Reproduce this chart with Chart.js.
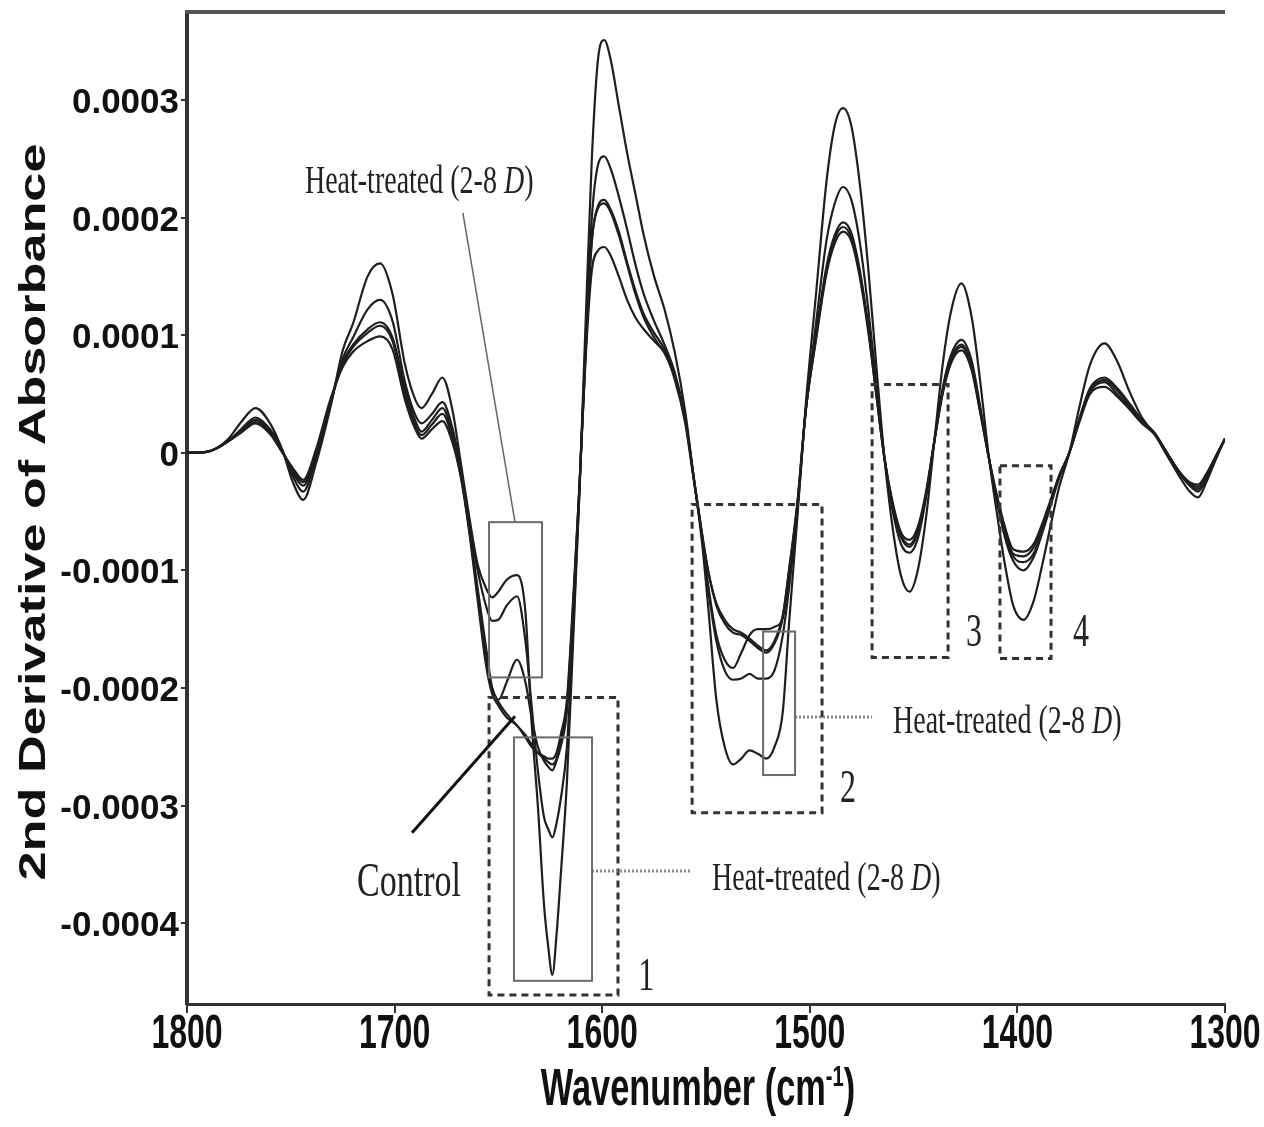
<!DOCTYPE html>
<html>
<head>
<meta charset="utf-8">
<title>2nd Derivative Spectra</title>
<script src="https://cdn.jsdelivr.net/npm/chart.js@4.4.1/dist/chart.umd.min.js"></script>
<style>
  html, body { margin: 0; padding: 0; background: #fff; }
  canvas { display: block; }
</style>
</head>
<body>
<canvas id="spectraChart" width="1264" height="1127"></canvas>
<script>
// wavenumber grid (cm-1), shared by all spectra
const wavenumbers = [
  1800, 1790, 1780, 1774, 1767, 1760, 1754, 1749, 1744, 1738,
  1731, 1725, 1720, 1713, 1707, 1701, 1695, 1690, 1687, 1682,
  1677, 1672, 1668, 1664, 1660, 1656, 1653, 1650, 1646, 1641,
  1637, 1634, 1631, 1628, 1626, 1624, 1622, 1620, 1617, 1614,
  1611, 1608, 1605, 1602, 1599, 1596, 1592, 1588, 1584, 1580,
  1575, 1570, 1565, 1560, 1556, 1552, 1549, 1545, 1541, 1537,
  1533, 1529, 1525, 1521, 1517, 1513, 1510, 1506, 1502, 1497,
  1492, 1488, 1484, 1480, 1476, 1472, 1468, 1464, 1460, 1456,
  1452, 1448, 1444, 1440, 1436, 1432, 1427, 1422, 1418, 1414,
  1410, 1406, 1402, 1397, 1392, 1388, 1384, 1380, 1375, 1370,
  1365, 1358, 1352, 1346, 1340, 1334, 1328, 1322, 1317, 1313,
  1309, 1305, 1300
];

// 2nd derivative values, in units of 1e-4
const heat8D = [
  0, 0.01, 0.12, 0.26, 0.38, 0.25, 0.02, -0.25, -0.40, -0.10,
  0.38, 0.87, 1.10, 1.50, 1.61, 1.35, 0.75, 0.45, 0.38, 0.50,
  0.64, 0.35, -0.10, -0.55, -0.95, -1.15, -1.23, -1.18, -1.08, -1.04,
  -1.35, -2.30, -3.00, -3.85, -4.20, -4.44, -4.10, -3.60, -2.80, -1.60,
  -0.35, 1.10, 2.50, 3.35, 3.51, 3.35, 2.95, 2.55, 2.20, 1.85,
  1.50, 1.22, 0.85, 0.35, -0.20, -0.75, -1.30, -2.10, -2.50, -2.65,
  -2.60, -2.53, -2.56, -2.60, -2.50, -2.20, -1.45, -0.55, 0.40, 1.35,
  2.30, 2.78, 2.93, 2.78, 2.30, 1.60, 0.75, -0.05, -0.65, -1.05,
  -1.18, -1.00, -0.55, 0.10, 0.75, 1.20, 1.44, 1.15, 0.62, 0.00,
  -0.50, -0.95, -1.30, -1.42, -1.25, -0.95, -0.62, -0.30, 0.00, 0.40,
  0.75, 0.93, 0.78, 0.52, 0.30, 0.16, -0.02, -0.20, -0.33, -0.38,
  -0.25, -0.08, 0.12
];
const heat6D = [
  0, 0.01, 0.10, 0.20, 0.30, 0.20, 0.02, -0.20, -0.33, -0.05,
  0.40, 0.80, 0.98, 1.22, 1.30, 1.12, 0.60, 0.32, 0.25, 0.33,
  0.43, 0.20, -0.15, -0.60, -1.00, -1.30, -1.43, -1.42, -1.30, -1.22,
  -1.60, -2.15, -2.70, -3.10, -3.20, -3.27, -3.15, -2.95, -2.50, -1.50,
  -0.35, 0.95, 2.00, 2.45, 2.52, 2.42, 2.18, 1.90, 1.60, 1.35,
  1.12, 0.92, 0.68, 0.30, -0.20, -0.70, -1.15, -1.60, -1.85, -1.93,
  -1.92, -1.88, -1.92, -1.92, -1.85, -1.55, -1.15, -0.50, 0.35, 1.10,
  1.80, 2.12, 2.26, 2.15, 1.80, 1.25, 0.60, -0.05, -0.50, -0.78,
  -0.85, -0.73, -0.38, 0.10, 0.55, 0.83, 0.96, 0.78, 0.40, -0.02,
  -0.40, -0.72, -0.92, -1.00, -0.88, -0.68, -0.45, -0.22, 0.00, 0.30,
  0.55, 0.64, 0.55, 0.42, 0.28, 0.17, 0.00, -0.17, -0.28, -0.33,
  -0.22, -0.06, 0.12
];
const heat4D = [
  0, 0.01, 0.10, 0.19, 0.28, 0.18, 0.01, -0.17, -0.28, -0.03,
  0.42, 0.77, 0.92, 1.05, 1.11, 0.98, 0.55, 0.27, 0.18, 0.28,
  0.38, 0.15, -0.18, -0.65, -1.15, -1.65, -2.00, -2.10, -1.95, -1.76,
  -1.95, -2.25, -2.50, -2.62, -2.67, -2.70, -2.62, -2.50, -2.20, -1.35,
  -0.30, 0.85, 1.80, 2.10, 2.15, 2.07, 1.88, 1.62, 1.38, 1.18,
  1.02, 0.88, 0.65, 0.28, -0.20, -0.70, -1.12, -1.55, -1.76, -1.83,
  -1.70, -1.55, -1.50, -1.50, -1.48, -1.40, -1.05, -0.45, 0.35, 1.00,
  1.58, 1.85, 1.96, 1.87, 1.56, 1.10, 0.52, -0.05, -0.45, -0.72,
  -0.80, -0.68, -0.36, 0.10, 0.52, 0.80, 0.92, 0.75, 0.38, -0.02,
  -0.38, -0.68, -0.88, -0.93, -0.85, -0.66, -0.43, -0.21, 0.00, 0.29,
  0.53, 0.62, 0.53, 0.40, 0.27, 0.17, 0.00, -0.17, -0.27, -0.31,
  -0.20, -0.05, 0.12
];
const heat2D = [
  0, 0.01, 0.10, 0.18, 0.26, 0.17, 0.01, -0.15, -0.25, 0.00,
  0.43, 0.75, 0.90, 1.02, 1.08, 0.95, 0.50, 0.23, 0.15, 0.24,
  0.33, 0.12, -0.20, -0.65, -1.20, -1.75, -2.00, -2.12, -2.22, -2.32,
  -2.40, -2.48, -2.55, -2.60, -2.63, -2.65, -2.60, -2.45, -2.15, -1.30,
  -0.30, 0.85, 1.80, 2.08, 2.12, 2.05, 1.85, 1.60, 1.35, 1.15,
  0.98, 0.85, 0.65, 0.28, -0.20, -0.68, -1.00, -1.30, -1.45, -1.53,
  -1.55, -1.60, -1.66, -1.70, -1.62, -1.40, -1.00, -0.45, 0.35, 0.98,
  1.55, 1.82, 1.92, 1.83, 1.53, 1.08, 0.50, -0.05, -0.45, -0.70,
  -0.78, -0.66, -0.35, 0.10, 0.52, 0.78, 0.90, 0.72, 0.36, -0.02,
  -0.37, -0.66, -0.86, -0.88, -0.80, -0.63, -0.42, -0.20, 0.00, 0.28,
  0.52, 0.60, 0.50, 0.38, 0.26, 0.16, 0.00, -0.16, -0.26, -0.29,
  -0.19, -0.05, 0.12
];
const control = [
  0, 0.01, 0.10, 0.17, 0.25, 0.16, 0.00, -0.13, -0.23, 0.02,
  0.45, 0.73, 0.86, 0.95, 0.99, 0.88, 0.45, 0.20, 0.12, 0.20,
  0.27, 0.08, -0.22, -0.68, -1.25, -1.80, -2.05, -2.15, -2.25, -2.32,
  -2.42, -2.50, -2.55, -2.58, -2.60, -2.60, -2.55, -2.40, -2.10, -1.25,
  -0.30, 0.80, 1.55, 1.72, 1.75, 1.68, 1.50, 1.30, 1.15, 1.05,
  0.95, 0.85, 0.62, 0.25, -0.22, -0.68, -1.00, -1.28, -1.42, -1.50,
  -1.53, -1.58, -1.64, -1.68, -1.60, -1.38, -1.00, -0.42, 0.35, 0.96,
  1.52, 1.78, 1.88, 1.80, 1.50, 1.05, 0.50, -0.05, -0.43, -0.68,
  -0.74, -0.63, -0.33, 0.10, 0.50, 0.76, 0.87, 0.70, 0.35, -0.02,
  -0.35, -0.63, -0.82, -0.84, -0.77, -0.60, -0.40, -0.20, 0.00, 0.27,
  0.50, 0.56, 0.48, 0.37, 0.25, 0.16, 0.00, -0.16, -0.25, -0.27,
  -0.18, -0.05, 0.12
];

const xTicks = [1800, 1700, 1600, 1500, 1400, 1300];
const yTicks = [-0.0004, -0.0003, -0.0002, -0.0001, 0, 0.0001, 0.0002, 0.0003];

const SCALE = 1e-4;
const Y_MIN = -4.687 * SCALE;
const Y_MAX = 3.748 * SCALE;

// annotation geometry in data units (wavenumber, value x 1e-4)
const dashedBoxes = [
  [1654.5, 1592.4, -2.08, -4.61],
  [1556.7, 1494.1, -0.44, -3.06],
  [1470.0, 1433.4, 0.58, -1.74],
  [1408.4, 1383.8, -0.11, -1.75]
];
const solidBoxes = [
  [1654.5, 1629.0, -0.59, -1.91],
  [1642.5, 1604.9, -2.42, -4.49],
  [1522.5, 1507.1, -1.52, -2.74]
];
const dottedLeaders = [
  [1604.9, -3.556, 1557.7, -3.556],
  [1507.1, -2.247, 1470.0, -2.247]
];
const boxNumbers = [
  ['1', 1582.6, -4.57],
  ['2', 1485.5, -2.97],
  ['3', 1424.8, -1.64],
  ['4', 1373.2, -1.64]
];
const heatLabels = [
  [1743.2, 2.21],
  [1547.1, -3.72],
  [1459.9, -2.38]
];

const SERIF = '"Liberation Serif", "Times New Roman", serif';
const SANS = '"Liberation Sans", Arial, sans-serif';

// draws text runs with separate horizontal / vertical scaling
function drawRuns(ctx, runs, x, y, sx, sy, align) {
  ctx.save();
  let total = 0;
  runs.forEach(r => {
    ctx.font = r.font;
    r.w = ctx.measureText(r.text).width;
    total += r.w;
  });
  let x0 = x;
  if (align === 'center') x0 = x - total * sx / 2;
  if (align === 'right') x0 = x - total * sx;
  ctx.translate(x0, y);
  ctx.scale(sx, sy);
  ctx.textBaseline = 'alphabetic';
  ctx.textAlign = 'left';
  let cx = 0;
  runs.forEach(r => {
    ctx.font = r.font;
    ctx.fillText(r.text, cx, -(r.rise || 0));
    cx += r.w;
  });
  ctx.restore();
}

function heatRuns(size) {
  return [
    { text: 'Heat-treated (2-8 ', font: size + 'px ' + SERIF },
    { text: 'D', font: 'italic ' + size + 'px ' + SERIF },
    { text: ')', font: size + 'px ' + SERIF }
  ];
}

const annotationPlugin = {
  id: 'annotations',
  afterDraw(chart) {
    const ctx = chart.ctx;
    const xs = chart.scales.x;
    const ys = chart.scales.y;
    const area = chart.chartArea;
    const px = w => xs.getPixelForValue(w);
    const py = v => ys.getPixelForValue(v * SCALE);

    ctx.save();

    // top frame line
    ctx.strokeStyle = '#555';
    ctx.lineWidth = 4;
    ctx.beginPath();
    ctx.moveTo(area.left - 2, area.top);
    ctx.lineTo(area.right, area.top);
    ctx.stroke();

    // dashed boxes 1-4
    ctx.strokeStyle = '#333';
    ctx.lineWidth = 3;
    ctx.setLineDash([7, 5]);
    dashedBoxes.forEach(b => {
      ctx.strokeRect(px(b[0]), py(b[2]), px(b[1]) - px(b[0]), py(b[3]) - py(b[2]));
    });

    // dotted leaders
    ctx.strokeStyle = '#888';
    ctx.setLineDash([2, 2]);
    dottedLeaders.forEach(l => {
      ctx.beginPath();
      ctx.moveTo(px(l[0]), py(l[1]));
      ctx.lineTo(px(l[2]), py(l[3]));
      ctx.stroke();
    });
    ctx.setLineDash([]);

    // solid boxes
    ctx.strokeStyle = '#6a6a6a';
    ctx.lineWidth = 2;
    solidBoxes.forEach(b => {
      ctx.strokeRect(px(b[0]), py(b[2]), px(b[1]) - px(b[0]), py(b[3]) - py(b[2]));
    });

    // leader from the upper label to its box
    ctx.strokeStyle = '#666';
    ctx.lineWidth = 1.5;
    ctx.beginPath();
    ctx.moveTo(px(1667.1), py(2.04));
    ctx.lineTo(px(1642.0), py(-0.59));
    ctx.stroke();

    // pointer for the control spectrum
    ctx.strokeStyle = '#111';
    ctx.lineWidth = 3;
    ctx.beginPath();
    ctx.moveTo(px(1691.6), py(-3.23));
    ctx.lineTo(px(1642.0), py(-2.24));
    ctx.stroke();

    // labels
    ctx.fillStyle = '#222';
    heatLabels.forEach(l => {
      drawRuns(ctx, heatRuns(28), px(l[0]), py(l[1]), 1, 1.45, 'left');
    });
    drawRuns(ctx, [{ text: 'Control', font: '34px ' + SERIF }], px(1718.1), py(-3.77), 1, 1.45, 'left');
    boxNumbers.forEach(n => {
      drawRuns(ctx, [{ text: n[0], font: '32px ' + SERIF }], px(n[1]), py(n[2]), 1, 1.45, 'left');
    });

    // tick labels
    ctx.fillStyle = '#111';
    xTicks.forEach(t => {
      drawRuns(ctx, [{ text: String(t), font: 'bold 32px ' + SANS }], px(t), 1048, 1, 1.5, 'center');
    });
    yTicks.forEach(t => {
      const label = t === 0 ? '0' : t.toFixed(4);
      drawRuns(ctx, [{ text: label, font: 'bold 35px ' + SANS }], area.left - 8, ys.getPixelForValue(t) + 13, 1, 1.02, 'right');
    });

    // axis titles
    drawRuns(ctx, [
      { text: 'Wavenumber (cm', font: 'bold 34px ' + SANS },
      { text: '-1', font: 'bold 20px ' + SANS, rise: 13 },
      { text: ')', font: 'bold 34px ' + SANS }
    ], (area.left + area.right) / 2 - 8, 1105, 1.01, 1.5, 'center');

    ctx.save();
    ctx.translate(45, 512);
    ctx.rotate(-Math.PI / 2);
    drawRuns(ctx, [{ text: '2nd Derivative of Absorbance', font: 'bold 36px ' + SANS }], 0, 0, 1.45, 1, 'center');
    ctx.restore();

    ctx.restore();
  }
};

const spectra = [
  { label: 'Control', values: control },
  { label: 'Heat-treated 2 D', values: heat2D },
  { label: 'Heat-treated 4 D', values: heat4D },
  { label: 'Heat-treated 6 D', values: heat6D },
  { label: 'Heat-treated 8 D', values: heat8D }
];

const ctx = document.getElementById('spectraChart').getContext('2d');
const chart = new Chart(ctx, {
  type: 'line',
  data: {
    datasets: spectra.map(s => ({
      label: s.label,
      data: wavenumbers.map((w, i) => ({ x: w, y: s.values[i] * SCALE })),
      borderColor: '#1e1e1e',
      borderWidth: 2.2,
      pointRadius: 0,
      cubicInterpolationMode: 'monotone',
      fill: false
    }))
  },
  options: {
    responsive: false,
    animation: false,
    devicePixelRatio: 1,
    layout: { padding: { top: 12, right: 39, left: 0, bottom: 0 } },
    plugins: {
      legend: { display: false },
      tooltip: { enabled: false }
    },
    scales: {
      x: {
        type: 'linear',
        reverse: true,
        min: 1300,
        max: 1800,
        afterBuildTicks: s => { s.ticks = xTicks.map(v => ({ value: v })); },
        afterFit: s => { s.height = 123; s.paddingLeft = 0; s.paddingRight = 0; },
        ticks: { display: false },
        grid: { drawOnChartArea: false, drawTicks: true, tickLength: 9, color: '#333', lineWidth: 2 },
        border: { display: true, color: '#333', width: 3 }
      },
      y: {
        type: 'linear',
        min: Y_MIN,
        max: Y_MAX,
        afterBuildTicks: s => { s.ticks = yTicks.map(v => ({ value: v })); },
        afterFit: s => { s.width = 187; s.paddingTop = 0; s.paddingBottom = 0; },
        ticks: { display: false },
        grid: { drawOnChartArea: false, drawTicks: true, tickLength: 6, color: '#333', lineWidth: 2 },
        border: { display: true, color: '#333', width: 4 }
      }
    }
  },
  plugins: [annotationPlugin]
});
</script>
</body>
</html>
